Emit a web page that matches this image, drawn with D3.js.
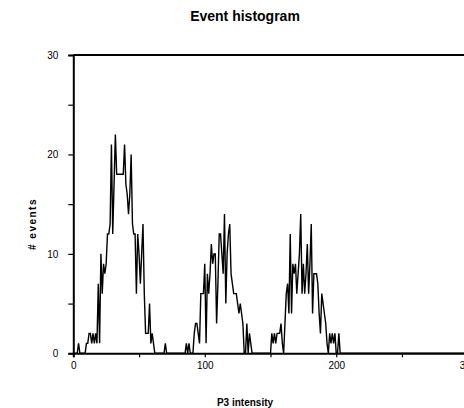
<!DOCTYPE html>
<html>
<head>
<meta charset="utf-8">
<script src="https://cdn.jsdelivr.net/npm/d3@7"></script>
<style>
  html, body { margin: 0; padding: 0; background: #fff; }
  svg { display: block; font-family: "Liberation Sans", Arial, sans-serif; }
</style>
</head>
<body>
<svg id="chart" width="464" height="408"></svg>
<script>
// ---- data ----
const title = "Event histogram";
const xLabel = "P3 intensity";
const yLabel = "# events";
// counts per unit of P3 intensity, starting at intensity 0
const counts = [
  0,0,0,0,1,0,0,0,0,0,
  1,1,2,2,1,2,1,2,1,7,
  1,10,6,9,8,9,12,12,13,21,
  12,17,22,18,18,18,18,18,18,21,
  17,16,14,16,20,13,12,12,6,12,
  10,7,10,13,6,2,2,2,5,1,
  2,1,0,0,0,0,0,0,0,0,
  1,0,0,0,0,0,0,0,0,0,
  0,0,0,0,0,0,1,0,1,0,
  0,0,2,3,3,2,1,6,6,6,
  9,1,8,6,8,11,9,10,10,3,
  7,12,12,10,8,14,5,10,12,13,
  8,7,6,6,6,5,4,5,4,3,
  0,0,3,0,2,1,0,0,0,0,
  0,0,0,0,0,0,0,0,0,0,
  0,2,1,2,1,2,2,2,3,1,
  0,3,6,7,4,12,4,9,8,9,
  6,8,10,14,6,9,6,8,11,6,
  9,13,4,8,8,8,7,4,2,6,
  5,4,3,1,0,2,1,2,1,2,
  0,0,2,0,0,0
];
const tailPoint = {x: 300, y: 0};
const xTicks = [0, 50, 100, 150, 200, 250, 300];
const xTickLabels = [0, 100, 200, 300];
const yTicks = [0, 5, 10, 15, 20, 25, 30];
const yTickLabels = [0, 10, 20, 30];

// ---- chart ----
const svg = d3.select("#chart");
const x = d3.scaleLinear().domain([0, 300]).range([73.3, 467.7]);
const y = d3.scaleLinear().domain([0, 30]).range([353.3, 55]);

const points = counts.map((c, i) => ({x: i, y: c}));
points.push(tailPoint);

// title
svg.append("text")
  .attr("x", 245).attr("y", 21)
  .attr("text-anchor", "middle")
  .attr("font-size", 14).attr("font-weight", "bold")
  .text(title);

// data line
svg.append("path")
  .datum(points)
  .attr("fill", "none")
  .attr("stroke", "#000")
  .attr("stroke-width", 1.4)
  .attr("stroke-linejoin", "miter")
  .attr("d", d3.line().x(d => x(d.x)).y(d => y(d.y)));

// top border
svg.append("line")
  .attr("x1", x(0)).attr("x2", x(300))
  .attr("y1", y(30)).attr("y2", y(30))
  .attr("stroke", "#000").attr("stroke-width", 2);

// y axis
const yAxis = svg.append("g")
  .attr("transform", `translate(${x(0)},0)`)
  .call(d3.axisLeft(y).tickValues(yTicks).tickSize(5).tickPadding(10)
    .tickFormat(d => yTickLabels.includes(d) ? d : ""));
yAxis.select(".domain").attr("stroke-width", 2);
yAxis.selectAll(".tick line").attr("stroke-width", 1.2);
yAxis.selectAll("text").attr("font-size", 10).attr("font-family", "Liberation Sans, Arial, sans-serif");

// x axis
const xAxis = svg.append("g")
  .attr("transform", `translate(0,${y(0)})`)
  .call(d3.axisBottom(x).tickValues(xTicks).tickSize(4).tickPadding(5)
    .tickFormat(d => xTickLabels.includes(d) ? d : ""));
xAxis.select(".domain").attr("stroke-width", 2);
xAxis.selectAll(".tick line").attr("stroke-width", 1.2);
xAxis.selectAll("text").attr("font-size", 10).attr("font-family", "Liberation Sans, Arial, sans-serif");

// axis titles
svg.append("text")
  .attr("x", 245).attr("y", 405.5)
  .attr("text-anchor", "middle")
  .attr("font-size", 10).attr("font-weight", "bold")
  .text(xLabel);

svg.append("text")
  .attr("transform", "translate(36,224) rotate(-90)")
  .attr("text-anchor", "middle")
  .attr("font-size", 10).attr("font-weight", "bold")
  .attr("letter-spacing", 1.5)
  .text(yLabel);
</script>
</body>
</html>
